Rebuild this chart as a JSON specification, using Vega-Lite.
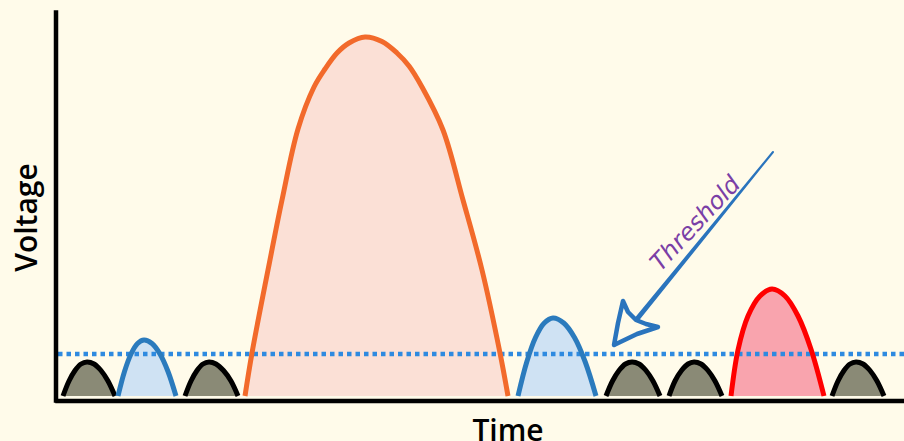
{
  "$schema": "https://vega.github.io/schema/vega-lite/v6.json",
  "width": 847,
  "height": 388,
  "autosize": "none",
  "padding": {"left": 57, "top": 12, "right": 0, "bottom": 41},
  "background": "#fffbea",
  "config": {"view": {"stroke": null}},
  "datasets": {
    "pulses": [
      {"pulse": "n1", "kind": "noise", "t": 6, "v": 4},
      {"pulse": "n1", "kind": "noise", "t": 12, "v": 19},
      {"pulse": "n1", "kind": "noise", "t": 18, "v": 29.5},
      {"pulse": "n1", "kind": "noise", "t": 24, "v": 36},
      {"pulse": "n1", "kind": "noise", "t": 30, "v": 38},
      {"pulse": "n1", "kind": "noise", "t": 37, "v": 36},
      {"pulse": "n1", "kind": "noise", "t": 44, "v": 29.5},
      {"pulse": "n1", "kind": "noise", "t": 51, "v": 19},
      {"pulse": "n1", "kind": "noise", "t": 58, "v": 4},
      {"pulse": "b1", "kind": "small", "t": 61, "v": 4},
      {"pulse": "b1", "kind": "small", "t": 67.5, "v": 28.5},
      {"pulse": "b1", "kind": "small", "t": 74, "v": 46},
      {"pulse": "b1", "kind": "small", "t": 80.5, "v": 56.5},
      {"pulse": "b1", "kind": "small", "t": 87, "v": 60},
      {"pulse": "b1", "kind": "small", "t": 95, "v": 56.5},
      {"pulse": "b1", "kind": "small", "t": 103, "v": 46},
      {"pulse": "b1", "kind": "small", "t": 111, "v": 28.5},
      {"pulse": "b1", "kind": "small", "t": 119, "v": 4},
      {"pulse": "n2", "kind": "noise", "t": 128, "v": 4},
      {"pulse": "n2", "kind": "noise", "t": 134, "v": 19},
      {"pulse": "n2", "kind": "noise", "t": 140, "v": 29.5},
      {"pulse": "n2", "kind": "noise", "t": 146, "v": 36},
      {"pulse": "n2", "kind": "noise", "t": 152, "v": 38},
      {"pulse": "n2", "kind": "noise", "t": 159, "v": 36},
      {"pulse": "n2", "kind": "noise", "t": 166.5, "v": 29.5},
      {"pulse": "n2", "kind": "noise", "t": 174, "v": 19},
      {"pulse": "n2", "kind": "noise", "t": 181, "v": 4},
      {"pulse": "o1", "kind": "large", "t": 188, "v": 4},
      {"pulse": "o1", "kind": "large", "t": 195, "v": 47},
      {"pulse": "o1", "kind": "large", "t": 211, "v": 130},
      {"pulse": "o1", "kind": "large", "t": 225, "v": 200},
      {"pulse": "o1", "kind": "large", "t": 241, "v": 271},
      {"pulse": "o1", "kind": "large", "t": 257, "v": 313},
      {"pulse": "o1", "kind": "large", "t": 268, "v": 331},
      {"pulse": "o1", "kind": "large", "t": 280, "v": 347},
      {"pulse": "o1", "kind": "large", "t": 292, "v": 357},
      {"pulse": "o1", "kind": "large", "t": 308, "v": 363},
      {"pulse": "o1", "kind": "large", "t": 325, "v": 358.5},
      {"pulse": "o1", "kind": "large", "t": 340, "v": 347},
      {"pulse": "o1", "kind": "large", "t": 352, "v": 334},
      {"pulse": "o1", "kind": "large", "t": 365, "v": 313},
      {"pulse": "o1", "kind": "large", "t": 386, "v": 270},
      {"pulse": "o1", "kind": "large", "t": 406, "v": 200},
      {"pulse": "o1", "kind": "large", "t": 425, "v": 130},
      {"pulse": "o1", "kind": "large", "t": 443, "v": 47},
      {"pulse": "o1", "kind": "large", "t": 451, "v": 4},
      {"pulse": "b2", "kind": "small", "t": 461, "v": 4},
      {"pulse": "b2", "kind": "small", "t": 469.75, "v": 38},
      {"pulse": "b2", "kind": "small", "t": 478.5, "v": 62.5},
      {"pulse": "b2", "kind": "small", "t": 487.25, "v": 77},
      {"pulse": "b2", "kind": "small", "t": 496, "v": 82},
      {"pulse": "b2", "kind": "small", "t": 506.75, "v": 77},
      {"pulse": "b2", "kind": "small", "t": 517.5, "v": 62.5},
      {"pulse": "b2", "kind": "small", "t": 528.25, "v": 38},
      {"pulse": "b2", "kind": "small", "t": 539, "v": 4},
      {"pulse": "n3", "kind": "noise", "t": 549, "v": 4},
      {"pulse": "n3", "kind": "noise", "t": 555.5, "v": 19},
      {"pulse": "n3", "kind": "noise", "t": 562, "v": 29.5},
      {"pulse": "n3", "kind": "noise", "t": 568.5, "v": 36},
      {"pulse": "n3", "kind": "noise", "t": 575, "v": 38},
      {"pulse": "n3", "kind": "noise", "t": 582, "v": 36},
      {"pulse": "n3", "kind": "noise", "t": 589, "v": 29.5},
      {"pulse": "n3", "kind": "noise", "t": 596, "v": 19},
      {"pulse": "n3", "kind": "noise", "t": 603, "v": 4},
      {"pulse": "n4", "kind": "noise", "t": 612, "v": 4},
      {"pulse": "n4", "kind": "noise", "t": 618, "v": 19},
      {"pulse": "n4", "kind": "noise", "t": 624.5, "v": 29.5},
      {"pulse": "n4", "kind": "noise", "t": 631, "v": 36},
      {"pulse": "n4", "kind": "noise", "t": 637, "v": 38},
      {"pulse": "n4", "kind": "noise", "t": 644, "v": 36},
      {"pulse": "n4", "kind": "noise", "t": 651, "v": 29.5},
      {"pulse": "n4", "kind": "noise", "t": 658, "v": 19},
      {"pulse": "n4", "kind": "noise", "t": 665, "v": 4},
      {"pulse": "r1", "kind": "medium", "t": 674, "v": 4},
      {"pulse": "r1", "kind": "medium", "t": 681, "v": 50},
      {"pulse": "r1", "kind": "medium", "t": 691, "v": 84},
      {"pulse": "r1", "kind": "medium", "t": 703, "v": 104},
      {"pulse": "r1", "kind": "medium", "t": 715, "v": 111},
      {"pulse": "r1", "kind": "medium", "t": 728, "v": 104},
      {"pulse": "r1", "kind": "medium", "t": 741, "v": 84},
      {"pulse": "r1", "kind": "medium", "t": 754, "v": 50.8},
      {"pulse": "r1", "kind": "medium", "t": 767, "v": 4},
      {"pulse": "n5", "kind": "noise", "t": 775, "v": 4},
      {"pulse": "n5", "kind": "noise", "t": 781, "v": 19},
      {"pulse": "n5", "kind": "noise", "t": 787, "v": 29.5},
      {"pulse": "n5", "kind": "noise", "t": 793, "v": 36},
      {"pulse": "n5", "kind": "noise", "t": 799, "v": 38},
      {"pulse": "n5", "kind": "noise", "t": 806, "v": 36},
      {"pulse": "n5", "kind": "noise", "t": 813, "v": 29.5},
      {"pulse": "n5", "kind": "noise", "t": 820, "v": 19},
      {"pulse": "n5", "kind": "noise", "t": 827, "v": 4}
    ],
    "threshold": [{"v": 46}],
    "shaft": [
      {"t": 716, "v": 248},
      {"t": 580, "v": 81}
    ],
    "head": [
      {"i": 0, "t": 557, "v": 55},
      {"i": 1, "t": 561, "v": 77},
      {"i": 2, "t": 566, "v": 99},
      {"i": 3, "t": 571, "v": 88},
      {"i": 4, "t": 579, "v": 80},
      {"i": 5, "t": 589, "v": 76},
      {"i": 6, "t": 601, "v": 73},
      {"i": 7, "t": 580, "v": 66},
      {"i": 8, "t": 557, "v": 55}
    ],
    "label": [{"t": 639, "v": 176, "text": "Threshold"}]
  },
  "layer": [
    {
      "data": {"name": "pulses"},
      "mark": {"type": "area", "interpolate": "catmull-rom"},
      "encoding": {
        "x": {
          "field": "t", "type": "quantitative",
          "scale": {"domain": [0, 847], "nice": false, "zero": false},
          "axis": {
            "title": "Time", "domainColor": "#000", "domainWidth": 4.5, "domainCap": "square",
            "ticks": false, "labels": false, "grid": false, "offset": 0.5, "zindex": 1,
            "titleFont": "Open Sans", "titleFontSize": 30, "titleFontWeight": 600, "titleColor": "#000",
            "titleX": 450.5, "titleY": 40, "titleAlign": "center", "titleBaseline": "alphabetic"
          }
        },
        "y": {
          "field": "v", "type": "quantitative",
          "scale": {"domain": [0, 388], "nice": false, "zero": false},
          "axis": {
            "title": "Voltage", "domainColor": "#000", "domainWidth": 4.5, "domainCap": "square",
            "ticks": false, "labels": false, "grid": false, "offset": 1.5, "zindex": 1,
            "titleFont": "Open Sans", "titleFontSize": 30, "titleFontWeight": 600, "titleColor": "#000",
            "titleAngle": 270, "titleX": -28, "titleY": 205, "titleAlign": "center", "titleBaseline": "middle"
          }
        },
        "y2": {"datum": 4},
        "fill": {
          "field": "kind", "type": "nominal",
          "scale": {"domain": ["noise", "small", "large", "medium"], "range": ["#8a8a76", "#cfe2f3", "#fbe0d6", "#f9a4ae"]},
          "legend": null
        },
        "detail": {"field": "pulse"}
      }
    },
    {
      "data": {"name": "threshold"},
      "mark": {"type": "rule", "color": "#2e8ae0", "strokeWidth": 4.5, "strokeDash": [4.5, 4]},
      "encoding": {"y": {"field": "v", "type": "quantitative"}}
    },
    {
      "data": {"name": "pulses"},
      "mark": {"type": "line", "interpolate": "catmull-rom", "strokeWidth": 5},
      "encoding": {
        "x": {"field": "t", "type": "quantitative"},
        "y": {"field": "v", "type": "quantitative"},
        "stroke": {
          "field": "kind", "type": "nominal",
          "scale": {"domain": ["noise", "small", "large", "medium"], "range": ["#000000", "#2b7bbd", "#f26a2b", "#ff0000"]},
          "legend": null
        },
        "detail": {"field": "pulse"}
      }
    },
    {
      "data": {"name": "shaft"},
      "mark": {"type": "trail", "color": "#2a74bd"},
      "encoding": {
        "x": {"field": "t", "type": "quantitative"},
        "y": {"field": "v", "type": "quantitative"},
        "size": {"field": "v", "type": "quantitative", "scale": {"domain": [81, 248], "range": [5, 2]}, "legend": null}
      }
    },
    {
      "data": {"name": "head"},
      "mark": {"type": "line", "color": "#2a74bd", "strokeWidth": 4.5, "strokeJoin": "round", "strokeCap": "round", "interpolate": "linear"},
      "encoding": {
        "x": {"field": "t", "type": "quantitative"},
        "y": {"field": "v", "type": "quantitative"},
        "order": {"field": "i"}
      }
    },
    {
      "data": {"name": "label"},
      "mark": {"type": "text", "angle": -47, "align": "center", "baseline": "middle", "font": "DejaVu Sans", "fontStyle": "oblique", "fontSize": 24, "color": "#7a3fa6"},
      "encoding": {
        "x": {"field": "t", "type": "quantitative"},
        "y": {"field": "v", "type": "quantitative"},
        "text": {"field": "text"}
      }
    }
  ]
}
